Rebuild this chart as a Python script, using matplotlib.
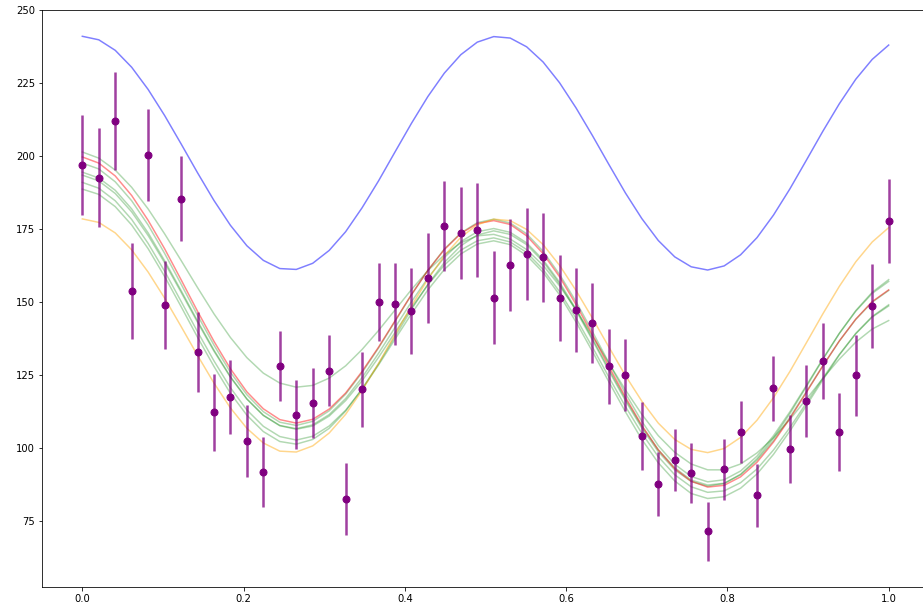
import matplotlib
matplotlib.use('Agg')
import matplotlib.pyplot as plt

# Puntos medidos (50 puntos equiespaciados entre 0 y 1)
x = [i / 49 for i in range(50)]

y_obs = [196.9, 192.6, 212.0, 153.8, 200.4, 149.0, 185.4, 133.0, 112.3, 117.5,
         102.5, 91.9, 128.1, 111.4, 115.4, 126.5, 82.7, 120.2, 150.0, 149.3,
         147.0, 158.3, 176.1, 173.6, 174.7, 151.5, 162.8, 166.4, 165.4, 151.5,
         147.4, 142.8, 128.1, 125.0, 104.1, 87.8, 95.9, 91.4, 71.6, 92.8,
         105.5, 83.9, 120.5, 99.8, 116.1, 129.8, 105.5, 125.0, 148.6, 177.7]

y_err = [17.2, 17.0, 16.9, 16.3, 15.8, 15.0, 14.6, 13.8, 13.2, 12.7,
         12.2, 12.0, 11.9, 11.8, 11.9, 12.1, 12.4, 12.8, 13.4, 14.1,
         14.7, 15.3, 15.4, 15.7, 16.1, 15.9, 15.7, 15.8, 15.2, 14.8,
         14.3, 13.6, 12.8, 12.3, 11.6, 11.0, 10.7, 10.3, 10.1, 10.4,
         10.5, 10.8, 11.2, 11.7, 12.4, 12.9, 13.4, 13.9, 14.3, 14.4]

# Curva azul (modelo sin tendencia)
azul = [241.0, 239.8, 236.2, 230.4, 222.8, 213.9, 204.2, 194.3, 184.8, 176.3,
        169.3, 164.3, 161.5, 161.2, 163.3, 167.7, 174.1, 182.3, 191.5, 201.4,
        211.2, 220.4, 228.4, 234.7, 239.0, 240.9, 240.4, 237.4, 232.2, 225.1,
        216.5, 207.0, 197.1, 187.4, 178.6, 171.1, 165.5, 162.1, 161.0, 162.4,
        166.2, 172.1, 179.8, 188.8, 198.6, 208.5, 217.9, 226.3, 233.1, 238.0]

naranja = [178.5, 177.3, 173.7, 167.9, 160.3, 151.4, 141.7, 131.8, 122.3, 113.8,
           106.8, 101.8, 99.0, 98.7, 100.8, 105.2, 111.6, 119.8, 129.0, 138.9,
           148.7, 157.9, 165.9, 172.2, 176.5, 178.4, 177.9, 174.9, 169.7, 162.6,
           154.0, 144.5, 134.6, 124.9, 116.1, 108.6, 103.0, 99.6, 98.5, 99.9,
           103.7, 109.6, 117.3, 126.3, 136.1, 146.0, 155.4, 163.8, 170.6, 175.5]

rojo = [199.7, 197.6, 193.2, 186.5, 178.0, 168.3, 157.7, 146.9, 136.6, 127.2,
        119.3, 113.5, 109.8, 108.6, 109.9, 113.4, 118.9, 126.3, 134.6, 143.6,
        152.6, 160.9, 168.0, 173.5, 176.9, 177.9, 176.6, 172.7, 166.6, 158.7,
        149.2, 138.8, 128.0, 117.5, 107.8, 99.4, 93.0, 88.7, 86.7, 87.3,
        90.2, 95.2, 102.1, 110.2, 119.1, 128.2, 136.7, 144.2, 150.2, 154.2]

# Curvas verdes (muestras)
verde1 = [201.4, 199.3, 195.2, 189.3, 181.9, 173.4, 164.3, 155.0, 146.0, 137.9,
          131.0, 125.7, 122.3, 120.9, 121.5, 124.0, 128.2, 133.8, 140.3, 147.3,
          154.3, 160.8, 166.2, 170.3, 172.7, 173.2, 171.6, 168.0, 162.6, 155.6,
          147.4, 138.4, 129.1, 120.0, 111.6, 104.3, 98.6, 94.6, 92.6, 92.6,
          94.6, 98.4, 103.6, 109.9, 116.8, 123.9, 130.5, 136.3, 140.8, 143.7]

verde2 = [197.6, 195.6, 191.2, 184.7, 176.4, 166.7, 156.2, 145.5, 135.3, 126.0,
          118.3, 112.5, 108.9, 107.8, 109.2, 112.8, 118.5, 125.9, 134.3, 143.4,
          152.5, 160.9, 168.2, 173.7, 177.2, 178.4, 177.1, 173.4, 167.4, 159.5,
          150.2, 139.9, 129.2, 118.8, 109.2, 100.9, 94.5, 90.3, 88.5, 89.2,
          92.2, 97.3, 104.3, 112.5, 121.5, 130.6, 139.3, 146.9, 153.0, 157.1]

verde3 = [194.5, 192.5, 188.3, 181.9, 173.7, 164.2, 154.0, 143.6, 133.6, 124.5,
          116.9, 111.3, 107.8, 106.7, 108.0, 111.5, 117.0, 124.2, 132.5, 141.3,
          150.1, 158.3, 165.3, 170.7, 174.1, 175.2, 173.9, 170.3, 164.5, 156.8,
          147.6, 137.5, 127.1, 116.9, 107.5, 99.5, 93.3, 89.1, 87.4, 88.0,
          90.9, 95.9, 102.6, 110.6, 119.4, 128.2, 136.7, 144.1, 150.0, 154.0]

verde4 = [191.0, 189.0, 184.7, 178.3, 170.1, 160.6, 150.3, 139.9, 129.9, 120.7,
          113.1, 107.5, 104.0, 102.8, 104.1, 107.6, 113.0, 120.2, 128.5, 137.3,
          146.0, 154.2, 161.2, 166.5, 169.9, 171.0, 169.7, 166.0, 160.2, 152.5,
          143.2, 133.1, 122.7, 112.5, 103.0, 95.0, 88.8, 84.5, 82.8, 83.4,
          86.3, 91.2, 97.9, 105.9, 114.6, 123.4, 131.9, 139.3, 145.1, 149.1]

verde5 = [188.7, 186.9, 182.7, 176.4, 168.3, 158.8, 148.5, 138.0, 128.0, 118.8,
          111.3, 105.7, 102.3, 101.4, 103.0, 106.8, 112.7, 120.3, 128.9, 138.2,
          147.5, 156.1, 163.6, 169.3, 173.0, 174.4, 173.2, 169.7, 163.9, 156.2,
          147.1, 137.0, 126.5, 116.3, 106.9, 98.8, 92.6, 88.6, 87.0, 87.9,
          91.1, 96.4, 103.5, 111.9, 121.1, 130.4, 139.3, 147.1, 153.4, 157.7]

verde6 = [193.5, 191.5, 187.2, 180.9, 172.8, 163.5, 153.4, 143.1, 133.2, 124.3,
          116.8, 111.2, 107.7, 106.5, 107.6, 111.0, 116.3, 123.1, 131.1, 139.6,
          148.1, 155.9, 162.7, 167.8, 171.0, 172.0, 170.6, 167.0, 161.2, 153.6,
          144.5, 134.6, 124.3, 114.3, 105.1, 97.1, 90.9, 86.8, 84.9, 85.4,
          88.2, 92.9, 99.4, 107.1, 115.5, 124.0, 132.1, 139.2, 144.9, 148.7]

verdes = [verde1, verde2, verde3, verde4, verde5, verde6]

# Figura
fig = plt.figure(figsize=(923 / 72, 605 / 72), dpi=72)
ax = fig.add_axes([42 / 923, 18 / 605, 887 / 923, 577 / 605])

ax.plot(x, azul, color='blue', alpha=0.5, lw=1.5)
for v in verdes:
    ax.plot(x, v, color='green', alpha=0.3, lw=1.5)
ax.plot(x, rojo, color='red', alpha=0.45, lw=1.5)
ax.plot(x, naranja, color='orange', alpha=0.45, lw=1.5)

ax.errorbar(x, y_obs, yerr=y_err, fmt='o', color='purple', ms=7,
            ecolor=(0.5, 0.0, 0.5, 0.75), elinewidth=2.5, capsize=0)

ax.set_xlim(-0.05, 1.05)
ax.set_ylim(52.5, 250)
ax.set_yticks([75, 100, 125, 150, 175, 200, 225, 250])

fig.savefig('out.png', dpi=72)
